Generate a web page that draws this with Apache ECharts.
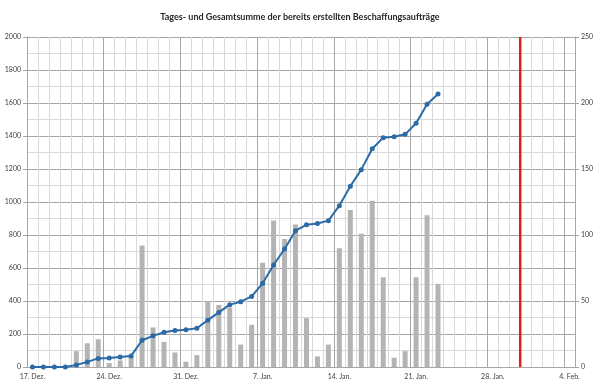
<!DOCTYPE html>
<html>
<head>
<meta charset="utf-8">
<script src="https://cdn.jsdelivr.net/npm/echarts@6/dist/echarts.min.js"></script>
<style>html,body{margin:0;padding:0;background:#fff}#c{width:600px;height:386px}</style>
</head>
<body>
<div id="c"></div>
<script>
const days = ["17. Dez.","18. Dez.","19. Dez.","20. Dez.","21. Dez.","22. Dez.","23. Dez.","24. Dez.","25. Dez.","26. Dez.","27. Dez.","28. Dez.","29. Dez.","30. Dez.","31. Dez.",
"1. Jan.","2. Jan.","3. Jan.","4. Jan.","5. Jan.","6. Jan.","7. Jan.","8. Jan.","9. Jan.","10. Jan.","11. Jan.","12. Jan.","13. Jan.","14. Jan.","15. Jan.","16. Jan.","17. Jan.","18. Jan.","19. Jan.","20. Jan.","21. Jan.","22. Jan.","23. Jan.","24. Jan.","25. Jan.","26. Jan.","27. Jan.","28. Jan.","29. Jan.","30. Jan.","31. Jan.",
"1. Feb.","2. Feb.","3. Feb.","4. Feb."];
// daily orders (right axis)
const daily = [0,0,0,0,12,18,21,3,5,8,92,30,19,11,4,9,50,47,45,17,32,79,111,97,108,37,8,17,90,119,101,126,68,7,12,68,115,63];
// cumulative total (left axis)
const total = [0,0,0,0,12,31,52,55,60,67,162,189,210,221,226,235,284,331,378,396,428,507,618,715,826,862,870,887,978,1095,1196,1323,1390,1396,1410,1477,1592,1655];
// vertical red marker at day boundary (between 30. Jan. and 31. Jan.)
const markerBoundary = 45;
const leftTicks = {min:0,max:2000,interval:200};
const rightTicks = {min:0,max:250,interval:50};

const chart = echarts.init(document.getElementById('c'));
const font = 'Lato, "Liberation Sans", sans-serif';
const plain = v => String(v);
chart.setOption({
  animation:false,
  title:{text:'Tages- und Gesamtsumme der bereits erstellten Beschaffungsaufträge',left:'center',top:8,
    textStyle:{fontFamily:font,fontSize:9,fontWeight:'bold',color:'#262626'}},
  grid:{left:27,right:25,top:37,bottom:19},
  xAxis:[{
    type:'category',data:days,boundaryGap:true,
    axisLine:{lineStyle:{color:'#a6a6a6'}},
    axisTick:{show:false},
    axisLabel:{interval:6,fontFamily:font,fontSize:7,color:'#404040',margin:6},
    splitLine:{show:true,interval:0,lineStyle:{color:'#d9d9d9',width:1}}
  },{
    type:'value',min:0,max:days.length,interval:7,position:'bottom',
    axisLine:{show:false},axisTick:{show:false},axisLabel:{show:false},
    splitLine:{show:true,lineStyle:{color:'#a6a6a6',width:1}}
  }],
  yAxis:[{
    type:'value',min:leftTicks.min,max:leftTicks.max,interval:leftTicks.interval,
    axisLine:{show:true,lineStyle:{color:'#a6a6a6'}},
    axisTick:{show:true,inside:false,length:4,lineStyle:{color:'#a6a6a6'}},
    axisLabel:{fontFamily:font,fontSize:7,color:'#404040',margin:6,formatter:plain},
    splitLine:{show:true,lineStyle:{color:'#a6a6a6'}},
    minorTick:{show:false,splitNumber:2},
    minorSplitLine:{show:true,lineStyle:{color:'#d9d9d9'}}
  },{
    type:'value',min:rightTicks.min,max:rightTicks.max,interval:rightTicks.interval,position:'right',
    axisLine:{show:true,lineStyle:{color:'#a6a6a6'}},
    axisTick:{show:true,length:4,lineStyle:{color:'#a6a6a6'}},
    axisLabel:{fontFamily:font,fontSize:7,color:'#404040',margin:6,formatter:plain},
    splitLine:{show:false}
  }],
  series:[{
    type:'bar',data:daily,xAxisIndex:0,yAxisIndex:1,barWidth:5,
    itemStyle:{color:'#b4b4b4'}
  },{
    type:'line',data:total,xAxisIndex:0,yAxisIndex:0,
    symbol:'circle',symbolSize:5,
    lineStyle:{color:'#2b6aa7',width:2},itemStyle:{color:'#2b6aa7'}
  },{
    type:'line',xAxisIndex:1,yAxisIndex:0,symbol:'none',
    data:[[markerBoundary,leftTicks.min],[markerBoundary,leftTicks.max]],
    lineStyle:{color:'#e0201b',width:2.5}
  }]
});
</script>
</body>
</html>
